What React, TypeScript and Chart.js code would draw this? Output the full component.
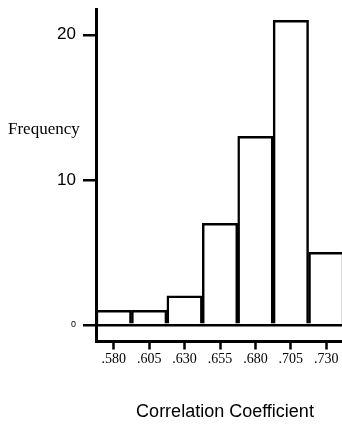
import React, { useEffect, useRef } from "react";
import { Chart, registerables } from "chart.js";

Chart.register(...registerables);

const categories = [".580", ".605", ".630", ".655", ".680", ".705", ".730"];
const frequencies = [1, 1, 2, 7, 13, 21, 5];
const yTickValues = [0, 10, 20];
const yLabel = "Frequency";
const xLabel = "Correlation Coefficient";

const sideLabelPlugin = {
  id: "sideLabel",
  afterDraw(chart: any) {
    const ctx = chart.ctx;
    ctx.save();
    ctx.fillStyle = "#000";
    ctx.font = "17px 'Liberation Serif'";
    ctx.textAlign = "left";
    ctx.textBaseline = "middle";
    ctx.fillText(yLabel, 8, 130);
    ctx.font = "18px 'Liberation Sans'";
    ctx.textAlign = "center";
    ctx.fillText(xLabel, 225, 412);
    ctx.restore();
  },
};

export default function App() {
  const ref = useRef<HTMLCanvasElement | null>(null);
  useEffect(() => {
    if (!ref.current) return;
    const chart = new Chart(ref.current, {
      type: "bar",
      data: {
        labels: categories,
        datasets: [
          {
            data: frequencies,
            backgroundColor: "#fff",
            borderColor: "#000",
            borderWidth: 2.5,
            barPercentage: 1,
            categoryPercentage: 1,
          },
        ],
      },
      options: {
        animation: false,
        responsive: false,
        events: [],
        layout: { padding: { top: 9, right: 3, left: 0, bottom: 0 } },
        plugins: { legend: { display: false }, tooltip: { enabled: false } },
        scales: {
          x: {
            afterFit: (s: any) => {
              s.height = 82.5;
              s.paddingLeft = 0;
              s.paddingRight = 0;
            },
            border: { display: true, color: "#000", width: 3 },
            grid: {
              offset: false,
              drawOnChartArea: false,
              drawTicks: true,
              tickLength: 8,
              tickWidth: 2.5,
              tickColor: "#000",
              color: "#000",
            },
            ticks: {
              color: "#000",
              padding: 1,
              maxRotation: 0,
              autoSkip: false,
              font: { family: "'Liberation Serif'", size: 14 },
            },
          },
          y: {
            min: -1.15,
            max: 21.78,
            afterFit: (s: any) => {
              s.width = 96;
              s.paddingTop = 0;
              s.paddingBottom = 0;
            },
            afterBuildTicks: (s: any) => {
              s.ticks = yTickValues.map((v) => ({ value: v }));
            },
            border: { display: true, color: "#000", width: 3 },
            grid: {
              drawOnChartArea: true,
              drawTicks: true,
              tickLength: 13,
              lineWidth: 2.5,
              tickWidth: 2.5,
              tickColor: "#000",
              color: (c: any) => (c.tick && c.tick.value === 0 ? "#000" : "rgba(0,0,0,0)"),
            },
            ticks: {
              color: "#000",
              padding: 7,
              font: (c: any) => ({
                family: "'Liberation Sans'",
                size: c.tick && c.tick.value === 0 ? 9 : 17,
              }),
            },
          },
        },
      },
      plugins: [sideLabelPlugin],
    });
    return () => chart.destroy();
  }, []);
  return (
    <div
      style={{
        position: "absolute",
        left: 0,
        top: 0,
        width: 342,
        height: 424,
        overflow: "hidden",
        background: "#fff",
      }}
    >
      <canvas ref={ref} width={347} height={424} style={{ width: 347, height: 424, display: "block" }} />
    </div>
  );
}
